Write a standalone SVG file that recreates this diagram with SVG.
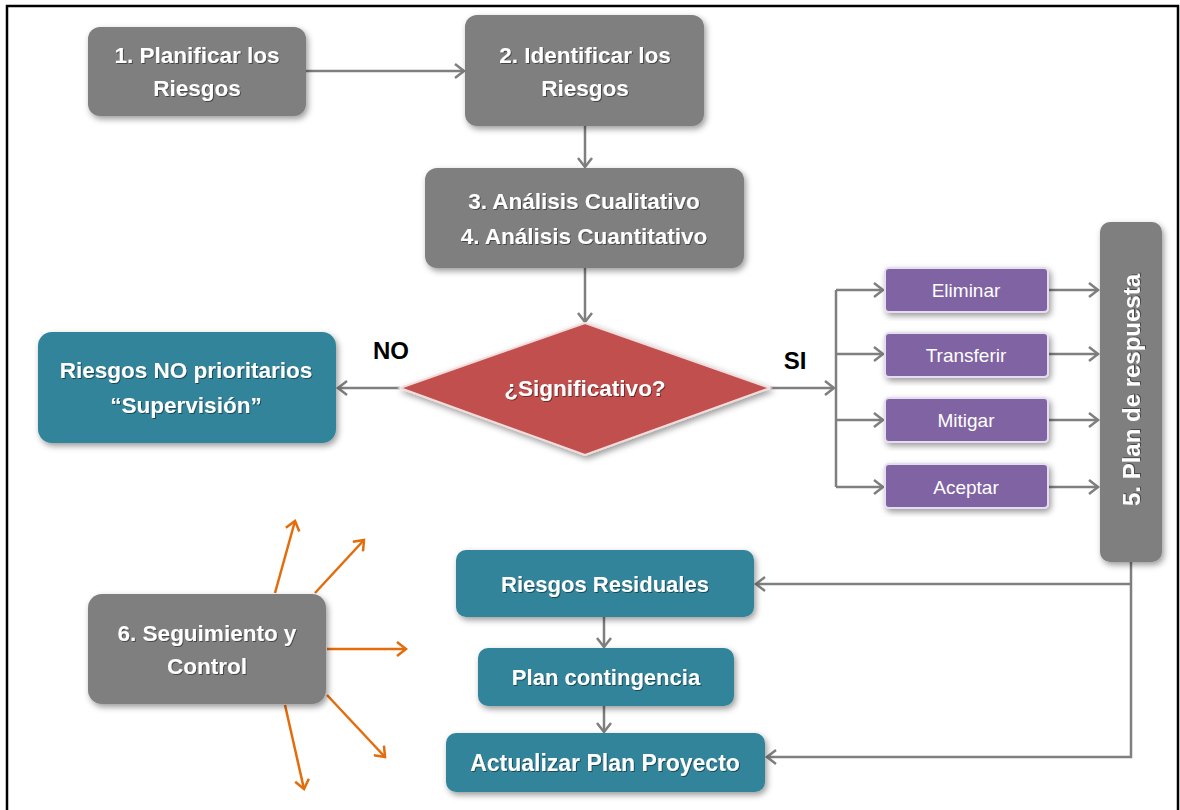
<svg xmlns="http://www.w3.org/2000/svg" width="1180" height="810" viewBox="0 0 1180 810">
<defs>
<style>
.gray{fill:#7f7f7f}
.teal{fill:#31849b}
.purple{fill:#8064a2;stroke:#e4dcef;stroke-width:2}
.t{font-family:"Liberation Sans",Arial,sans-serif;font-weight:bold;fill:#fff;text-anchor:middle;dominant-baseline:central}
.tp{font-family:"Liberation Sans",Arial,sans-serif;fill:#fff;text-anchor:middle;dominant-baseline:central;font-size:19px}
.lbl{font-family:"Liberation Sans",Arial,sans-serif;font-weight:bold;fill:#000;text-anchor:middle;dominant-baseline:central;font-size:24px}
.c{fill:none;stroke:#7f7f7f;stroke-width:2.5}
.o{fill:none;stroke:#e46c0a;stroke-width:2.5}
</style>
<filter id="sh" x="-10%" y="-10%" width="125%" height="130%">
<feDropShadow dx="2" dy="3" stdDeviation="3" flood-color="#000" flood-opacity="0.4"/>
</filter>
<filter id="ts" x="-5%" y="-20%" width="110%" height="140%">
<feDropShadow dx="1" dy="1" stdDeviation="0.6" flood-color="#000" flood-opacity="0.45"/>
</filter>
<marker id="ag" markerUnits="userSpaceOnUse" markerWidth="14" markerHeight="16" refX="11" refY="8" orient="auto">
<path d="M2,1 L11,8 L2,15" fill="none" stroke="#7f7f7f" stroke-width="2.5"/>
</marker>
<marker id="ao" markerUnits="userSpaceOnUse" markerWidth="14" markerHeight="16" refX="11" refY="8" orient="auto">
<path d="M2,1 L11,8 L2,15" fill="none" stroke="#e46c0a" stroke-width="2.5"/>
</marker>
</defs>
<rect x="0" y="0" width="1180" height="810" fill="#fff"/>
<path d="M7,812 L7,6 L1178,6 L1178,812" fill="none" stroke="#000" stroke-width="2.5"/>

<g id="connectors">
<line class="c" x1="306" y1="71" x2="464" y2="71" marker-end="url(#ag)"/>
<line class="c" x1="585" y1="126" x2="585" y2="167" marker-end="url(#ag)"/>
<line class="c" x1="585" y1="268" x2="585" y2="322" marker-end="url(#ag)"/>
<line class="c" x1="400" y1="388" x2="338" y2="388" marker-end="url(#ag)"/>
<line class="c" x1="770" y1="388" x2="834" y2="388" marker-end="url(#ag)"/>
<line class="c" x1="836" y1="290" x2="836" y2="487"/>
<line class="c" x1="836" y1="290" x2="883" y2="290" marker-end="url(#ag)"/>
<line class="c" x1="836" y1="354" x2="883" y2="354" marker-end="url(#ag)"/>
<line class="c" x1="836" y1="420" x2="883" y2="420" marker-end="url(#ag)"/>
<line class="c" x1="836" y1="487" x2="883" y2="487" marker-end="url(#ag)"/>
<line class="c" x1="1048" y1="290" x2="1098" y2="290" marker-end="url(#ag)"/>
<line class="c" x1="1048" y1="354" x2="1098" y2="354" marker-end="url(#ag)"/>
<line class="c" x1="1048" y1="420" x2="1098" y2="420" marker-end="url(#ag)"/>
<line class="c" x1="1048" y1="487" x2="1098" y2="487" marker-end="url(#ag)"/>
<path class="c" d="M1131,562 L1131,757 L767,757" marker-end="url(#ag)"/>
<line class="c" x1="1131" y1="584" x2="756" y2="584" marker-end="url(#ag)"/>
<line class="c" x1="604" y1="617" x2="604" y2="647" marker-end="url(#ag)"/>
<line class="c" x1="604" y1="706" x2="604" y2="732" marker-end="url(#ag)"/>
<line class="o" x1="275" y1="593" x2="295" y2="521" marker-end="url(#ao)"/>
<line class="o" x1="315" y1="593" x2="364" y2="540" marker-end="url(#ao)"/>
<line class="o" x1="327" y1="649" x2="406" y2="649" marker-end="url(#ao)"/>
<line class="o" x1="327" y1="695" x2="385" y2="757" marker-end="url(#ao)"/>
<line class="o" x1="285" y1="705" x2="304" y2="789" marker-end="url(#ao)"/>
</g>

<g id="n1">
<rect class="gray" x="88" y="27" width="218" height="89" rx="12" filter="url(#sh)"/>
<text class="t" font-size="22.5" filter="url(#ts)"><tspan x="197" y="55">1. Planificar los</tspan><tspan x="197" y="88">Riesgos</tspan></text>
</g>
<g id="n2">
<rect class="gray" x="465" y="15" width="239" height="111" rx="12" filter="url(#sh)"/>
<text class="t" font-size="22.5" filter="url(#ts)"><tspan x="585" y="55">2. Identificar los</tspan><tspan x="585" y="88">Riesgos</tspan></text>
</g>
<g id="n3">
<rect class="gray" x="425" y="168" width="319" height="100" rx="12" filter="url(#sh)"/>
<text class="t" font-size="22.5" filter="url(#ts)"><tspan x="584" y="201">3. Análisis Cualitativo</tspan><tspan x="584" y="236">4. Análisis Cuantitativo</tspan></text>
</g>
<g id="decision">
<polygon points="585,323 770,388 585,455 400,388" fill="#c0504d" stroke="#f2dcdb" stroke-width="2" filter="url(#sh)"/>
<text class="t" font-size="22.5" x="585" y="388" filter="url(#ts)">¿Significativo?</text>
</g>
<g id="lbl-no"><text class="lbl" x="391" y="350">NO</text></g>
<g id="lbl-si"><text class="lbl" x="795" y="360">SI</text></g>
<g id="noprio">
<rect class="teal" x="38" y="332" width="298" height="111" rx="14" filter="url(#sh)"/>
<text class="t" font-size="22.5" filter="url(#ts)"><tspan x="186" y="370">Riesgos NO prioritarios</tspan><tspan x="186" y="405">“Supervisión”</tspan></text>
</g>
<g id="eliminar">
<rect class="purple" x="885" y="268" width="163" height="44" rx="4" filter="url(#sh)"/>
<text class="tp" x="966" y="290">Eliminar</text>
</g>
<g id="transferir">
<rect class="purple" x="885" y="333" width="163" height="44" rx="4" filter="url(#sh)"/>
<text class="tp" x="966" y="355">Transferir</text>
</g>
<g id="mitigar">
<rect class="purple" x="885" y="398" width="163" height="44" rx="4" filter="url(#sh)"/>
<text class="tp" x="966" y="420">Mitigar</text>
</g>
<g id="aceptar">
<rect class="purple" x="885" y="464" width="163" height="44" rx="4" filter="url(#sh)"/>
<text class="tp" x="966" y="487">Aceptar</text>
</g>
<g id="n5">
<rect class="gray" x="1100" y="222" width="62" height="340" rx="10" filter="url(#sh)"/>
<text class="t" font-size="24" transform="translate(1131,390) rotate(-90)" x="0" y="0" filter="url(#ts)">5. Plan de respuesta</text>
</g>
<g id="residuales">
<rect class="teal" x="456" y="550" width="298" height="67" rx="10" filter="url(#sh)"/>
<text class="t" font-size="22" x="605" y="584" filter="url(#ts)">Riesgos Residuales</text>
</g>
<g id="contingencia">
<rect class="teal" x="478" y="648" width="256" height="58" rx="10" filter="url(#sh)"/>
<text class="t" font-size="22" x="606" y="677" filter="url(#ts)">Plan contingencia</text>
</g>
<g id="actualizar">
<rect class="teal" x="446" y="733" width="319" height="59" rx="10" filter="url(#sh)"/>
<text class="t" font-size="23" x="605" y="763" filter="url(#ts)">Actualizar Plan Proyecto</text>
</g>
<g id="n6">
<rect class="gray" x="88" y="594" width="238" height="110" rx="14" filter="url(#sh)"/>
<text class="t" font-size="22.5" filter="url(#ts)"><tspan x="207" y="633">6. Seguimiento y</tspan><tspan x="207" y="666">Control</tspan></text>
</g>
</svg>
